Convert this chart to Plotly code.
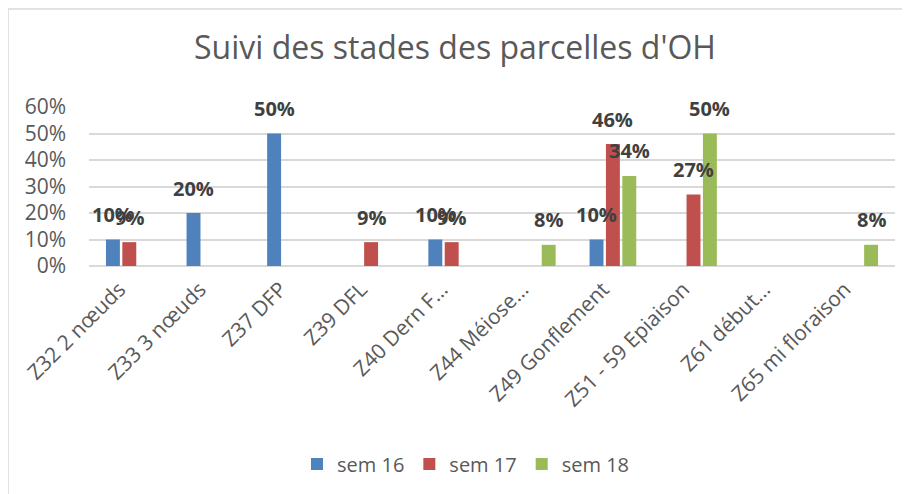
import plotly.graph_objects as go

categories = ["Z32 2 nœuds", "Z33 3 nœuds", "Z37 DFP", "Z39 DFL", "Z40 Dern F…",
              "Z44 Méiose…", "Z49 Gonflement", "Z51 - 59 Epiaison", "Z61 début…",
              "Z65 mi floraison"]
series_names = ["sem 16", "sem 17", "sem 18"]
sem16 = [0.10, 0.20, 0.50, None, 0.10, None, 0.10, None, None, None]
sem17 = [0.09, None, None, 0.09, 0.09, None, 0.46, 0.27, None, None]
sem18 = [None, None, None, None, None, 0.08, 0.34, 0.50, None, 0.08]
y_ticks = [0, 0.1, 0.2, 0.3, 0.4, 0.5, 0.6]
y_tick_labels = ["0%", "10%", "20%", "30%", "40%", "50%", "60%"]

colors = ["#4F81BD", "#C0504D", "#9BBB59"]
W, H = 910, 494
OFF = 8  # page body margin
ml, mr, mt, mb = 89 - OFF, 15 + OFF, 107 - OFF, 228 + OFF
bargap = 0.39
pw = W - ml - mr
ph = H - mt - mb

fig = go.Figure()
all_series = [sem16, sem17, sem18]
for name, vals, col in zip(series_names, all_series, colors):
    fig.add_trace(go.Bar(name=name, x=categories, y=vals, marker_color=col,
                         marker_line_width=0, hoverinfo="skip"))

cat_w = pw / len(categories)
slot = cat_w * (1 - bargap) / 3
annotations = []
for si, vals in enumerate(all_series):
    for cat, v in zip(categories, vals):
        if v is None:
            continue
        annotations.append(dict(x=cat, y=v, xref="x", yref="y", text=f"<b>{round(v*100)}%</b>",
                                showarrow=False, xshift=(si - 1) * slot, yshift=25,
                                yanchor="middle",
                                font=dict(family="Open Sans", size=20, color="#404040")))

fig.update_layout(
    width=W, height=H,
    margin=dict(l=ml, r=mr, t=mt, b=mb),
    paper_bgcolor="white", plot_bgcolor="white",
    barmode="group", bargap=bargap, bargroupgap=0.15,
    title=dict(text="Suivi des stades des parcelles d'OH", x=(455 - OFF) / W, xanchor="center",
               y=1 - (48 - OFF) / H, yanchor="middle",
               font=dict(family="Open Sans", size=32, color="#595959")),
    font=dict(family="Open Sans", color="#595959"),
    legend=dict(orientation="h", x=(466 - OFF) / W, xanchor="center", xref="container",
                y=1 - (464 - OFF) / H, yref="container", yanchor="middle",
                font=dict(size=20, color="#595959"), itemwidth=30),
    annotations=annotations,
    shapes=[dict(type="rect", xref="paper", yref="paper",
                 x0=(8 - OFF - ml) / pw, x1=(915 - ml) / pw,
                 y0=(H - mb - 500) / ph, y1=1 + (mt - (9 - OFF)) / ph,
                 line=dict(color="#D9D9D9", width=1.5), layer="below")],
)
fig.update_xaxes(tickangle=-45, tickfont=dict(size=21, color="#595959"),
                 showgrid=False, showline=False, ticks="", automargin=False,
                 ticklabelshift=-10, ticklabelstandoff=6)
fig.update_yaxes(range=[0, 0.6], tickvals=y_ticks, ticktext=y_tick_labels,
                 tickfont=dict(size=21, color="#595959"), showgrid=True,
                 gridcolor="#D9D9D9", gridwidth=1.5, zeroline=True, zerolinecolor="#D9D9D9",
                 zerolinewidth=1.5, ticklabelstandoff=22, automargin=False)

fig.write_html("out.html")
